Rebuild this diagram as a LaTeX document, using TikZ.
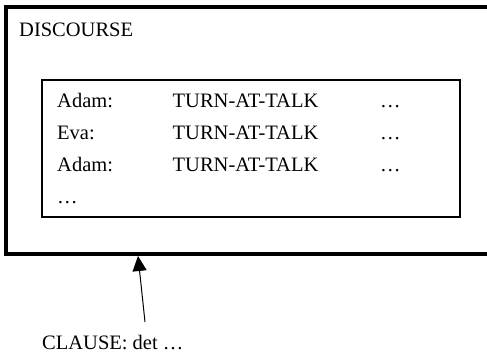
\documentclass[tikz,border=0pt]{standalone}
\usepackage{fontspec}
\setmainfont{Liberation Serif}
\usetikzlibrary{arrows.meta}
\begin{document}
\begin{tikzpicture}[x=1pt,y=-1pt,
  txt/.style={anchor=base west,inner sep=0pt,font=\fontsize{20.5}{24}\selectfont},
  outerbox/.style={draw=black,line width=4pt},
  innerbox/.style={draw=black,line width=2pt},
  pointer/.style={line width=1pt,-{Triangle[length=15pt,width=14pt]}}]
\useasboundingbox (0,0) rectangle (487,355);
\clip (0,0) rectangle (487,355);
\draw[outerbox] (6,7) rectangle (500,254);
\coordinate (outerbottom) at (138,256);
\draw[innerbox] (42,80) rectangle (460,217.5);
\node[txt] (disc) at (19,36.5) {DISCOURSE};
\node[txt] (s1) at (57,108) {Adam:};
\node[txt] (t1) at (172.5,108) {TURN-AT-TALK};
\node[txt] (e1) at (380,108) {…};
\node[txt] (s2) at (57,140) {Eva:};
\node[txt] (t2) at (172.5,140) {TURN-AT-TALK};
\node[txt] (e2) at (380,140) {…};
\node[txt] (s3) at (57,172) {Adam:};
\node[txt] (t3) at (172.5,172) {TURN-AT-TALK};
\node[txt] (e3) at (380,172) {…};
\node[txt] (e4) at (57,204) {…};
\node[txt] (lbl) at (42,349) {CLAUSE: det …};
\coordinate (tail) at (145,322);
\draw[pointer] (tail) -- (outerbottom);
\end{tikzpicture}
\end{document}
